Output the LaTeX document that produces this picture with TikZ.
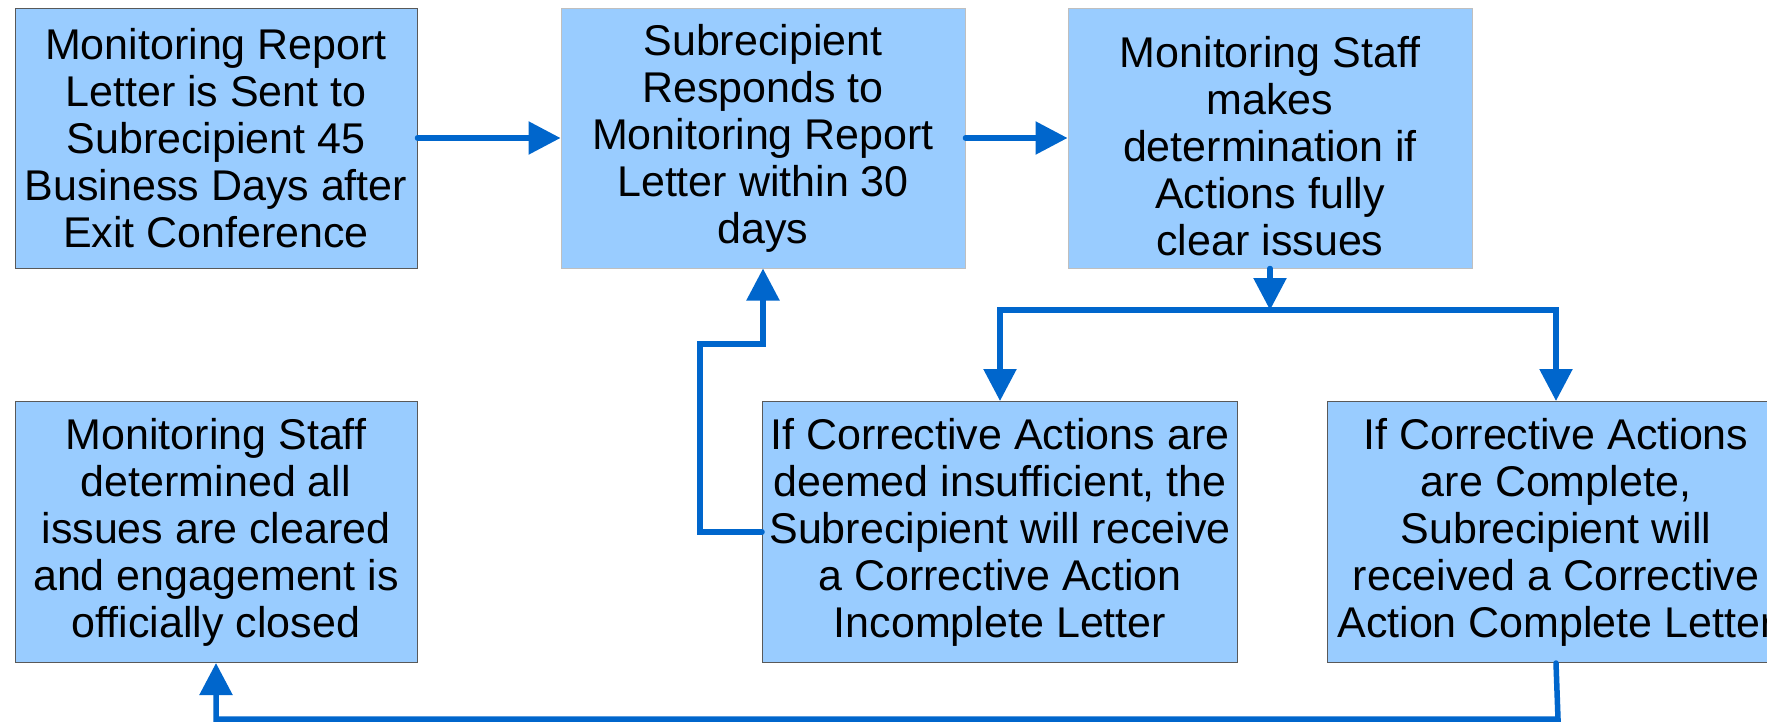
\documentclass[tikz,border=0pt]{standalone}
\usepackage{fontspec}
\setmainfont{Liberation Sans}
\usetikzlibrary{arrows.meta}
\definecolor{boxfill}{HTML}{99CCFF}
\definecolor{linec}{HTML}{0066CC}
\begin{document}
\begin{tikzpicture}[x=1pt,y=-1pt,
  box/.style={draw=black!65, line width=1pt, fill=boxfill, inner sep=0pt, align=center,
    font=\fontsize{43}{47}\selectfont},
  lbox/.style={box, draw=black!25},
  conn/.style={draw=linec, line width=5.5pt, line cap=round, line join=miter,
    -{Triangle[length=32pt,width=32pt]}}]
\clip (0,0) rectangle (1767,723);
\fill[white] (0,0) rectangle (1767,723);
\node[box, minimum width=402pt, minimum height=260pt] (b1) at (216,138)
  {Monitoring Report\\Letter is Sent to\\Subrecipient 45\\Business Days after\\Exit Conference};
\node[lbox, minimum width=404pt, minimum height=260pt] (b2) at (763,138)
  {Subrecipient\\Responds to\\Monitoring Report\\Letter within 30\\days};
\node[lbox, minimum width=404pt, minimum height=260pt] (b3) at (1270,138)
  {\raisebox{0pt}[\height][\depth]{}\\[-47pt]\\Monitoring Staff\\makes\\determination if\\Actions fully\\clear issues};
\node[box, minimum width=475pt, minimum height=261pt] (b4) at (1000,532)
  {If Corrective Actions are\\deemed insufficient, the\\Subrecipient will receive\\a Corrective Action\\Incomplete Letter};
\node[box, minimum width=458pt, minimum height=261pt] (b5) at (1556,532)
  {If Corrective Actions\\are Complete,\\Subrecipient will\\received a Corrective\\Action Complete Letter};
\node[box, minimum width=402pt, minimum height=261pt] (b6) at (216,532)
  {Monitoring Staff\\determined all\\issues are cleared\\and engagement is\\officially closed};
\coordinate (j) at (1270,310);
\coordinate (l1) at (700,344);
\coordinate (l2) at (1558,719);
\draw[conn] (b1.east) -- (b2.west);
\draw[conn] (b2.east) -- (b3.west);
\draw[conn] (b3.south) -- (j);
\draw[conn] (j) -| (b4.north);
\draw[conn] (j) -| (b5.north);
\draw[conn] (b4.west) -| (l1) -| (b2.south);
\draw[conn] (b5.south) -- (l2) -| (b6.south);
\end{tikzpicture}
\end{document}
